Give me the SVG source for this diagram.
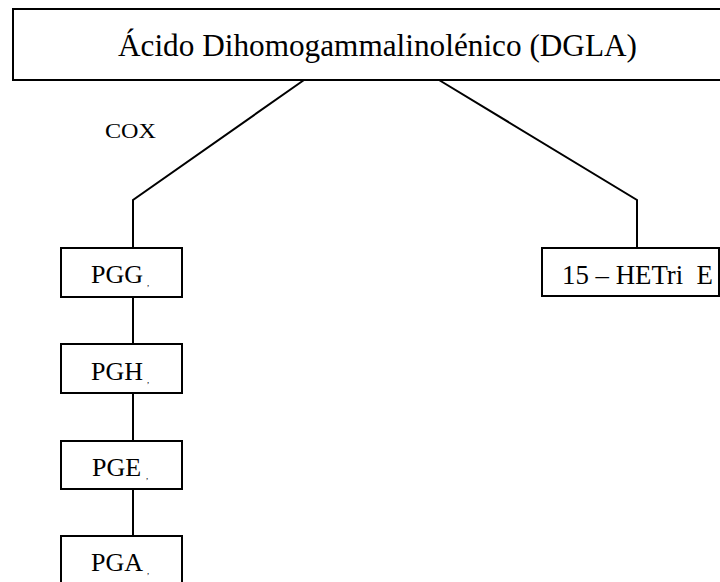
<svg xmlns="http://www.w3.org/2000/svg" width="720" height="582" viewBox="0 0 720 582">
<style>
.box{fill:#fff;stroke:#000;stroke-width:2}
.ln{fill:none;stroke:#000;stroke-width:2}
text{font-family:"Liberation Serif","Times New Roman",serif;fill:#000}
.t{font-size:26px}
.sub{font-size:9px}
</style>
<rect width="720" height="582" fill="#fff"/>
<g id="connectors">
<polyline class="ln" points="304,80 133,200 133,248"/>
<polyline class="ln" points="439,80 637,200 637,248"/>
<line class="ln" x1="133" y1="297" x2="133" y2="344"/>
<line class="ln" x1="133" y1="393" x2="133" y2="441"/>
<line class="ln" x1="133" y1="489" x2="133" y2="536"/>
</g>
<g id="dgla">
<rect class="box" x="13" y="9" width="720" height="71"/>
<text x="118" y="56" style="font-size:31px" textLength="519" lengthAdjust="spacingAndGlyphs">Ácido Dihomogammalinolénico (DGLA)</text>
</g>
<g id="cox">
<text x="105" y="138" style="font-size:21px" textLength="51" lengthAdjust="spacingAndGlyphs">COX</text>
</g>
<g id="pgg">
<rect class="box" x="61" y="248" width="121" height="49"/>
<text x="91" y="283" class="t">PGG</text>
<text x="147" y="286" class="sub">,</text>
</g>
<g id="pgh">
<rect class="box" x="61" y="344" width="121" height="49"/>
<text x="91" y="380" class="t">PGH</text>
<text x="147" y="383" class="sub">,</text>
</g>
<g id="pge">
<rect class="box" x="61" y="441" width="121" height="48"/>
<text x="92" y="476" class="t">PGE</text>
<text x="146" y="479" class="sub">,</text>
</g>
<g id="pga">
<rect class="box" x="61" y="536" width="121" height="60"/>
<text x="91" y="571" class="t">PGA</text>
<text x="147" y="574" class="sub">,</text>
</g>
<g id="hetri">
<rect class="box" x="542" y="248" width="177" height="48"/>
<text x="562" y="284" style="font-size:28px" textLength="151" lengthAdjust="spacingAndGlyphs" xml:space="preserve">15 – HETri  E</text>
</g>
</svg>
